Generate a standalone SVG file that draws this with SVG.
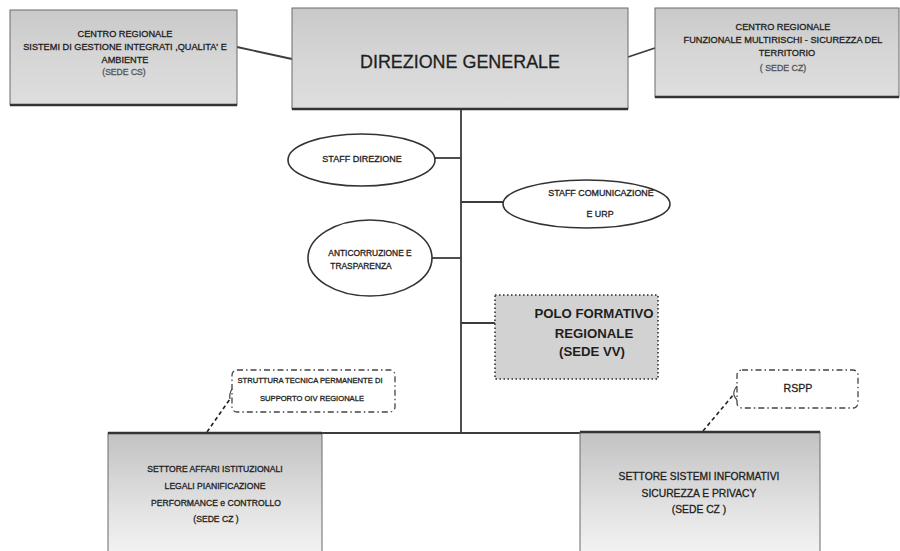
<svg xmlns="http://www.w3.org/2000/svg" width="900" height="551" viewBox="0 0 900 551">
<defs>
<linearGradient id="gTop" x1="0" y1="0" x2="0" y2="1">
<stop offset="0" stop-color="#c9c9c9"/>
<stop offset="0.5" stop-color="#d6d6d6"/>
<stop offset="1" stop-color="#dedede"/>
</linearGradient>
<linearGradient id="gBot" x1="0" y1="0" x2="0" y2="1">
<stop offset="0" stop-color="#c2c2c2"/>
<stop offset="0.6" stop-color="#e2e2e2"/>
<stop offset="1" stop-color="#f4f4f4"/>
</linearGradient>
<style>
.box{fill:url(#gTop);stroke:#6a6a6a;stroke-width:1}
.bbox{fill:url(#gBot);stroke:#6a6a6a;stroke-width:1}
.shadow{stroke:#333;stroke-width:2.5;fill:none}
.conn{stroke:#3c3c3c;stroke-width:1.8;fill:none}
.ell{fill:#fff;stroke:#333;stroke-width:1.6}
.dd{fill:#fff;stroke:#444;stroke-width:1.3;stroke-dasharray:6 3 1.5 3}
.ptr{stroke:#222;stroke-width:1.6;stroke-dasharray:4 3;fill:none}
.dot{fill:#d2d2d2;stroke:#555;stroke-width:2;stroke-dasharray:1.5 2.5}
text{font-family:"Liberation Sans",Arial,sans-serif;fill:#1e1e1e;stroke:#1e1e1e;stroke-width:0.3;text-anchor:middle}
.b{font-weight:bold;stroke-width:0}
.g{fill:#555;stroke:#555}
</style>
</defs>
<rect width="900" height="551" fill="#fff"/>

<g id="connectors">
<line class="conn" x1="237" y1="47" x2="292" y2="59"/>
<line class="conn" x1="628" y1="57" x2="655" y2="48"/>
<line class="conn" x1="461" y1="109" x2="461" y2="433"/>
<line class="conn" x1="435" y1="158" x2="461" y2="158"/>
<line class="conn" x1="461" y1="202" x2="503" y2="202"/>
<line class="conn" x1="432" y1="258" x2="461" y2="258"/>
<line class="conn" x1="461" y1="323" x2="495" y2="323"/>
<line class="conn" x1="108" y1="433" x2="820" y2="433"/>
<line class="ptr" x1="207" y1="432" x2="230" y2="399"/>
<line class="ptr" x1="703" y1="431" x2="734" y2="394"/>
</g>

<g id="centro-cs">
<rect class="box" x="10" y="10" width="227" height="95"/>
<line class="shadow" x1="10" y1="105" x2="237" y2="105"/>
<text x="125" y="37" font-size="9.2">CENTRO REGIONALE</text>
<text x="125" y="50" font-size="9.2">SISTEMI DI GESTIONE INTEGRATI ,QUALITA' E</text>
<text x="125" y="63" font-size="9.2">AMBIENTE</text>
<text class="g" x="124" y="75" font-size="8.6">(SEDE CS)</text>
</g>

<g id="direzione-generale">
<rect class="box" x="292" y="8" width="336" height="101"/>
<line class="shadow" x1="292" y1="109" x2="628" y2="109"/>
<text x="460" y="68" font-size="19" fill="#4b5056" stroke="#4b5056" stroke-width="0.5" textLength="200" lengthAdjust="spacingAndGlyphs">DIREZIONE GENERALE</text>
</g>

<g id="centro-cz">
<rect class="box" x="655" y="8" width="244" height="89"/>
<line class="shadow" x1="655" y1="97" x2="899" y2="97"/>
<text x="783" y="30" font-size="9.2">CENTRO REGIONALE</text>
<text x="783" y="43" font-size="9.2">FUNZIONALE MULTIRISCHI - SICUREZZA DEL</text>
<text x="787" y="56" font-size="9.2">TERRITORIO</text>
<text class="g" x="783" y="71" font-size="8.8">( SEDE CZ)</text>
</g>

<g id="staff-direzione">
<ellipse class="ell" cx="361.5" cy="160" rx="73.5" ry="26"/>
<text x="362" y="162" font-size="9">STAFF DIREZIONE</text>
</g>

<g id="staff-comunicazione">
<ellipse class="ell" cx="586.5" cy="204" rx="83.5" ry="24"/>
<text x="601" y="196" font-size="8.9">STAFF COMUNICAZIONE</text>
<text x="600" y="217" font-size="8.9">E URP</text>
</g>

<g id="anticorruzione">
<ellipse class="ell" cx="370" cy="258" rx="62" ry="38"/>
<text x="370" y="256" font-size="8.4">ANTICORRUZIONE E</text>
<text x="361" y="269" font-size="8.4">TRASPARENZA</text>
</g>

<g id="polo-formativo">
<rect class="dot" x="495" y="295" width="163" height="84"/>
<text class="b" x="594" y="318" font-size="13.2" fill="#222">POLO FORMATIVO</text>
<text class="b" x="594" y="338" font-size="13.2" fill="#222">REGIONALE</text>
<text class="b" x="592" y="356" font-size="13.2" fill="#222">(SEDE VV)</text>
</g>

<g id="struttura-tecnica">
<rect class="dd" x="232" y="370" width="163" height="42" rx="5"/>
<path d="M232 389 q-3 5 -2 10" fill="none" stroke="#444" stroke-width="1.2"/>
<text x="310" y="383" font-size="7.6">STRUTTURA TECNICA PERMANENTE DI</text>
<text x="312" y="401" font-size="7.6">SUPPORTO OIV REGIONALE</text>
</g>

<g id="rspp">
<rect class="dd" x="737" y="370" width="121" height="38" rx="5"/>
<path d="M737 386 q-4 5 -3 9 q1 3 3 5" fill="none" stroke="#444" stroke-width="1.2"/>
<text x="798" y="392" font-size="10.6">RSPP</text>
</g>

<g id="settore-affari">
<rect class="bbox" x="108" y="433" width="214" height="125"/>
<line class="shadow" x1="108" y1="433" x2="322" y2="433" stroke-width="2"/>
<text x="215" y="472" font-size="8.6">SETTORE AFFARI ISTITUZIONALI</text>
<text x="215" y="489" font-size="8.6">LEGALI PIANIFICAZIONE</text>
<text x="216" y="506" font-size="8.6">PERFORMANCE e CONTROLLO</text>
<text x="216" y="522" font-size="8.6">(SEDE CZ )</text>
</g>

<g id="settore-sistemi">
<rect class="bbox" x="580" y="432" width="240" height="126"/>
<line class="shadow" x1="580" y1="432" x2="820" y2="432" stroke-width="2"/>
<text x="699" y="480" font-size="10.3">SETTORE SISTEMI INFORMATIVI</text>
<text x="699" y="497" font-size="10.3">SICUREZZA E PRIVACY</text>
<text x="699" y="513" font-size="10.3">(SEDE  CZ )</text>
</g>
</svg>
